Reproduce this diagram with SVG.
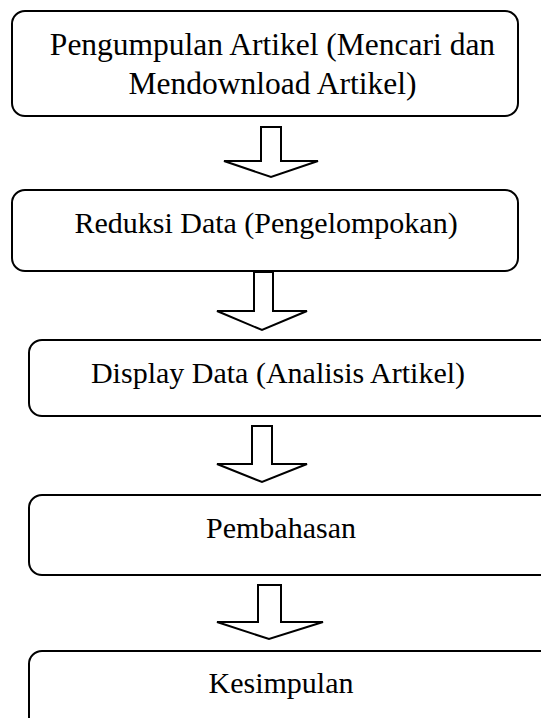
<svg xmlns="http://www.w3.org/2000/svg" width="541" height="718" viewBox="0 0 541 718">
<style>
.box{fill:#fff;stroke:#000;stroke-width:2}
.arr{fill:#fff;stroke:#000;stroke-width:2;stroke-linejoin:miter}
.t{font-family:"Liberation Serif","Times New Roman",serif;font-size:30px;fill:#000;text-anchor:middle}
.big{font-size:31.5px}
</style>
<rect width="541" height="718" fill="#fff"/>
<g id="connectors">
<polygon class="arr" points="261,127 281,127 281,161 318,161 271,177 224,161 261,161"/>
<polygon class="arr" points="254,272 273,272 273,311 307,311 262,330 217,311 254,311"/>
<polygon class="arr" points="252,426 272,426 272,464 307,464 262,482 217,464 252,464"/>
<polygon class="arr" points="258,585 281,585 281,622 323,622 269,639 217,622 258,622"/>
</g>
<g id="n1">
<rect class="box" x="12" y="11" width="506" height="105" rx="13"/>
<text class="t big" x="272.5" y="55">Pengumpulan Artikel (Mencari dan</text>
<text class="t big" x="272.5" y="94">Mendownload Artikel)</text>
</g>
<g id="n2">
<rect class="box" x="12" y="190" width="506" height="81" rx="13"/>
<text class="t" x="266" y="233">Reduksi Data (Pengelompokan)</text>
</g>
<g id="n3">
<rect class="box" x="29" y="340" width="531" height="76" rx="13"/>
<text class="t" x="278" y="383">Display Data (Analisis Artikel)</text>
</g>
<g id="n4">
<rect class="box" x="29" y="495" width="531" height="80" rx="13"/>
<text class="t" x="281" y="538">Pembahasan</text>
</g>
<g id="n5">
<rect class="box" x="29" y="651" width="531" height="80" rx="13"/>
<text class="t" x="281" y="693">Kesimpulan</text>
</g>
</svg>
